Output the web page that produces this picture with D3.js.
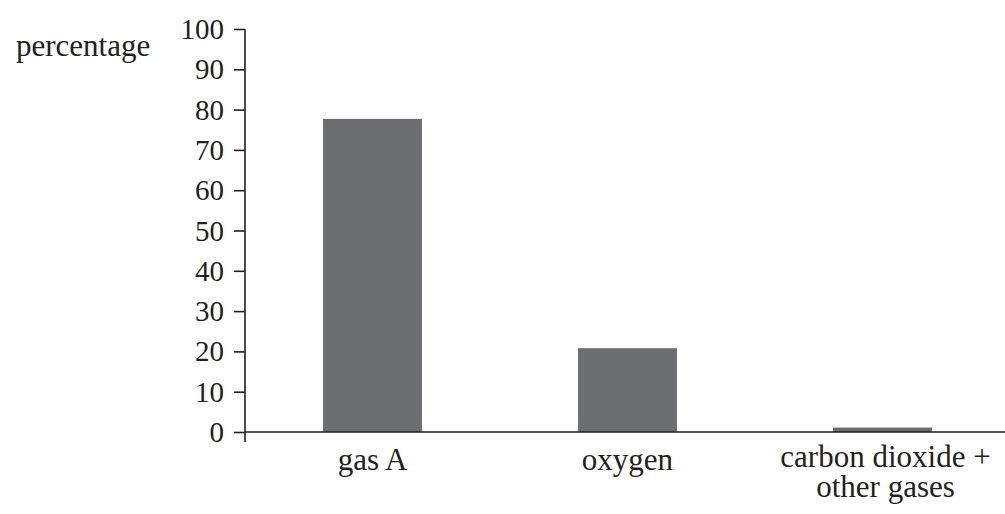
<!DOCTYPE html>
<html>
<head>
<meta charset="utf-8">
<script src="https://cdn.jsdelivr.net/npm/d3@7"></script>
<style>
body { margin: 0; background: #fff; }
text { font-family: "Liberation Serif", "Times New Roman", serif; fill: #231f20; }
</style>
</head>
<body>
<div id="chart"></div>
<script>
var categories = [["gas A"], ["oxygen"], ["carbon dioxide +", "other gases"]];
var values = [77.7, 20.8, 1.1];
var yTicks = [0, 10, 20, 30, 40, 50, 60, 70, 80, 90, 100];

var WIDTH = 1005;
var HEIGHT = 514;
var AXIS_X = 245;
var Y0 = 432;
var Y100 = 29;

var svg = d3.select("#chart").append("svg")
	.attr("width", WIDTH)
	.attr("height", HEIGHT);

var x = d3.scaleBand()
	.domain(d3.range(categories.length))
	.range([AXIS_X, 1010])
	.paddingInner(0.612)
	.paddingOuter(0.306);

var y = d3.scaleLinear().domain([0, 100]).range([Y0, Y100]);

// bars
svg.selectAll("rect")
	.data(values)
	.enter()
	.append("rect")
	.attr("x", (d, i) => x(i))
	.attr("y", d => y(d))
	.attr("width", x.bandwidth())
	.attr("height", d => Y0 - y(d))
	.attr("fill", "#6d6e71");

// y axis
var yAxis = svg.append("g")
	.attr("transform", "translate(" + AXIS_X + ",0)")
	.call(d3.axisLeft(y).tickValues(yTicks).tickSize(11).tickPadding(10).tickSizeOuter(0));
yAxis.select(".domain").remove();
yAxis.selectAll(".tick line").attr("stroke", "#231f20").attr("stroke-width", 1.6);
yAxis.selectAll(".tick text").style("font-size", "29px").attr("dy", "0.33em");
svg.append("line")
	.attr("x1", AXIS_X).attr("x2", AXIS_X)
	.attr("y1", Y100).attr("y2", Y0 + 10)
	.attr("stroke", "#231f20").attr("stroke-width", 1.6);

// x axis line
svg.append("line")
	.attr("x1", AXIS_X).attr("x2", WIDTH)
	.attr("y1", Y0).attr("y2", Y0)
	.attr("stroke", "#231f20").attr("stroke-width", 1.6);

// category labels
svg.selectAll(".cat")
	.data(categories)
	.enter()
	.append("text")
	.attr("class", "cat")
	.attr("text-anchor", "middle")
	.style("font-size", "31px")
	.each(function(d, i) {
		var t = d3.select(this);
		var top = d.length > 1 ? 467 : 470;
		d.forEach(function(line, j) {
			t.append("tspan")
				.attr("x", x(i) + x.bandwidth() / 2 + (d.length > 1 ? 3 : 0))
				.attr("y", top + j * 30)
				.text(line);
		});
	});

// y label
svg.append("text")
	.attr("x", 16)
	.attr("y", 56)
	.style("font-size", "31px")
	.text("percentage");
</script>
</body>
</html>
